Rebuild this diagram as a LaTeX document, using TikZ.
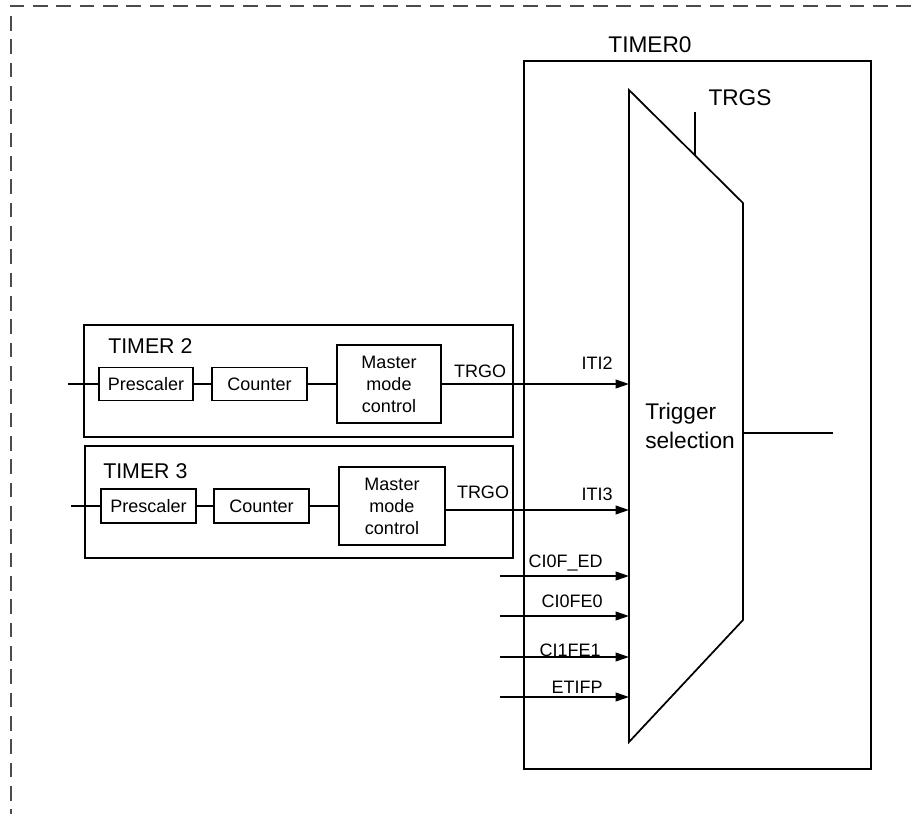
\documentclass[tikz,border=0pt]{standalone}
\usepackage{fontspec}
\setmainfont{Liberation Sans}
\usetikzlibrary{arrows.meta}
\begin{document}
\begin{tikzpicture}[x=0.75pt,y=-0.75pt,
  ln/.style={line width=1.3pt},
  blk/.style={draw,line width=1.3pt,inner sep=0pt,align=center,font=\fontsize{13.5}{16.5}\selectfont},
  frame/.style={draw,line width=1.3pt},
  small/.style={inner sep=0pt,font=\fontsize{13.5}{16}\selectfont},
  big/.style={inner sep=0pt,font=\fontsize{17}{21.75}\selectfont},
  arr/.style={line width=1.3pt,-{Triangle[length=10pt,width=6.5pt]}},
  dashframe/.style={draw=black!70,line width=1.1pt,dash pattern=on 11pt off 6.5pt}
]
\useasboundingbox (0,0) rectangle (911,814);
% dashed open frame
\coordinate (fa) at (911,6);
\coordinate (fb) at (11,6);
\coordinate (fc) at (11,814);
\draw[dashframe] (fa) -- (fb) -- (fc);

% TIMER0 box
\node[frame,minimum width=347*0.75pt,minimum height=708*0.75pt,anchor=north west] (t0) at (523,60) {};
\node[big] (t0l) at (650,45) {TIMER0};

% trapezoid
\coordinate (ta) at (629,90);
\coordinate (tb) at (743,203);
\coordinate (tc) at (743,620);
\coordinate (td) at (629,742);
\draw[ln,line join=miter] (ta) -- (tb) -- (tc) -- (td) -- cycle;
\node[big,anchor=west,align=left] (ts) at (645,426) {Trigger\\selection};
\coordinate (trgsA) at (695,155.4);
\coordinate (trgsB) at (695,112);
\draw[ln] (trgsA) -- (trgsB);
\node[big] (trgs) at (740,98) {TRGS};
\coordinate (outA) at (743,433);
\coordinate (outB) at (833,433);
\draw[ln] (outA) -- (outB);

% TIMER 2
\node[frame,minimum width=429*0.75pt,minimum height=112*0.75pt,anchor=north west] (t2) at (83,324) {};
\node[big,anchor=west,font=\fontsize{16}{19}\selectfont] (t2l) at (108,346) {TIMER 2};
\node[blk,minimum width=94*0.75pt,minimum height=33*0.75pt] (p2) at (146,384) {Prescaler};
\node[blk,minimum width=95*0.75pt,minimum height=33*0.75pt] (c2) at (259.5,384) {Counter};
\node[blk,minimum width=104*0.75pt,minimum height=78*0.75pt] (m2) at (389,384) {Master\\mode\\control};
\coordinate (i2) at (68,384);
\coordinate (e2) at (629,384);
\draw[ln] (i2) -- (p2);
\draw[ln] (p2) -- (c2);
\draw[ln] (c2) -- (m2);
\draw[arr] (m2.east) -- (e2);
\node[small] (trgo2) at (480,371) {TRGO};
\node[small] (iti2) at (597,363) {ITI2};

% TIMER 3
\node[frame,minimum width=428*0.75pt,minimum height=112*0.75pt,anchor=north west] (t3) at (84,445) {};
\node[big,anchor=west,font=\fontsize{16}{19}\selectfont] (t3l) at (103,471) {TIMER 3};
\node[blk,minimum width=95*0.75pt,minimum height=34*0.75pt] (p3) at (148.5,506) {Prescaler};
\node[blk,minimum width=95*0.75pt,minimum height=34*0.75pt] (c3) at (261.5,506) {Counter};
\node[blk,minimum width=106*0.75pt,minimum height=78*0.75pt] (m3) at (392,506) {Master\\mode\\control};
\coordinate (i3) at (71,506);
\coordinate (e3) at (629,510);
\draw[ln] (i3) -- (p3);
\draw[ln] (p3) -- (c3);
\draw[ln] (c3) -- (m3);
\draw[arr] (m3.east |- e3) -- (e3);
\node[small] (trgo3) at (483,492) {TRGO};
\node[small] (iti3) at (597,494) {ITI3};

% other inputs
\coordinate (a1) at (500,576); \coordinate (b1) at (629,576);
\coordinate (a2) at (500,616); \coordinate (b2) at (629,616);
\coordinate (a3) at (500,657); \coordinate (b3) at (629,657);
\coordinate (a4) at (500,697); \coordinate (b4) at (629,697);
\draw[arr] (a1) -- (b1);
\draw[arr] (a2) -- (b2);
\draw[arr] (a3) -- (b3);
\draw[arr] (a4) -- (b4);
\node[small,anchor=east] (l1) at (603,563) {CI0F\_ED};
\node[small,anchor=east] (l2) at (603,601) {CI0FE0};
\node[small,anchor=east] (l3) at (601,650) {CI1FE1};
\node[small,anchor=east] (l4) at (603,687) {ETIFP};
\end{tikzpicture}
\end{document}
